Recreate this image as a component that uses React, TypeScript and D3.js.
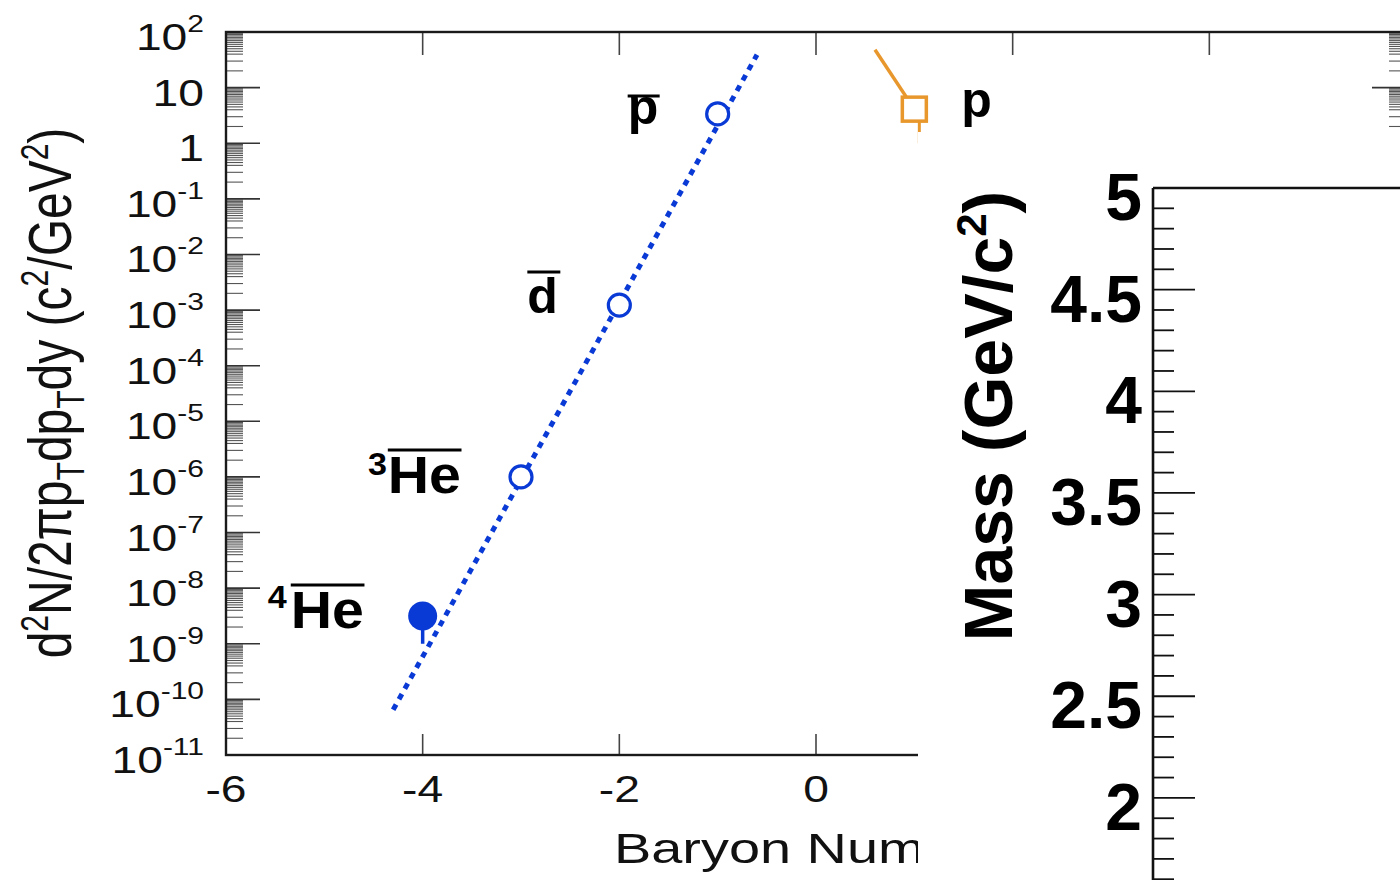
import React from 'react';
import * as d3 from 'd3';

const W = 1400;
const H = 880;
const FONT = "'Liberation Sans', Arial, Helvetica, sans-serif";

// ---------- data ----------
const antiBaryon = [-4, -3, -2, -1];
const antiYield = [3.16e-9, 1.0e-6, 1.23e-3, 3.36];
const antiYieldLow = [1.0e-9, 1.0e-6, 1.23e-3, 3.36];
const antiFilled = [true, false, false, false];

const fitBaryon = [-4.3, -0.6];
const fitYield = [6.5e-11, 39];

const protonBaryon = [1];
const protonYield = [4.1];
const protonYieldLow = [1.0];
const protonTrailBaryon = [0.6, 1];
const protonTrailYield = [48, 4.1];

const xTicks = [-6, -4, -2, 0, 2, 4, 6];
const xLabelValues = [-6, -4, -2, 0];
const xTickLabels = ['-6', '-4', '-2', '0'];
const yDecades = [-11, -10, -9, -8, -7, -6, -5, -4, -3, -2, -1, 0, 1, 2];
const yMinorMultipliers = [2, 3, 4, 4.5, 5, 5.5, 6, 6.5, 7, 7.5, 8, 8.5, 9, 9.5];

const massMajor = [1.5, 2, 2.5, 3, 3.5, 4, 4.5, 5];
const massMajorLabels = ['1.5', '2', '2.5', '3', '3.5', '4', '4.5', '5'];

// ---------- colours ----------
const BLUE = '#0a3ad6';
const ORANGE = '#e8972c';
const AXIS = '#1a1a1a';

export default function App() {
  const x = d3.scaleLinear().domain([-6, 6]).range([226, 1406]);
  const y = d3.scaleLog().domain([1e-11, 1e2]).range([755, 32]);
  const m = d3.scaleLinear().domain([1, 5]).range([188 + 4 * 203.3, 188]);

  const x0 = x(-6), x1 = x(6), yTop = y(1e2), yBot = y(1e-11);

  const line = d3.line<[number, number]>().x(d => x(d[0])).y(d => y(d[1]));
  const fitPath = line(fitBaryon.map((b, i) => [b, fitYield[i]] as [number, number])) || '';
  const trailPath = line(protonTrailBaryon.map((b, i) => [b, protonTrailYield[i]] as [number, number])) || '';

  const minorVals: number[] = [];
  yDecades.slice(0, -1).forEach(n => yMinorMultipliers.forEach(k => minorVals.push(k * Math.pow(10, n))));

  const massMinor: number[] = d3.range(10, 51).map(v => v / 10).filter(v => !massMajor.some(M => Math.abs(M - v) < 1e-6));

  const labelFS = 37;
  const supFS = 24;

  const yTickLabel = (n: number) => {
    const yy = y(Math.pow(10, n));
    if (n === 1 || n === 0) {
      return (
        <g key={'yl' + n} transform={`translate(204,${yy + 18}) scale(1.25,1)`}>
          <text x={0} y={0} textAnchor="end" fontSize={labelFS} fontFamily={FONT} fill="#111">{n === 1 ? '10' : '1'}</text>
        </g>
      );
    }
    return (
      <g key={'yl' + n} transform={`translate(204,${yy + 18}) scale(1.25,1)`}>
        <text x={0} y={0} textAnchor="end" fontSize={labelFS} fontFamily={FONT} fill="#111">
          10<tspan dy={-18} fontSize={supFS}>{String(n)}</tspan>
        </text>
      </g>
    );
  };

  const bold = { fontFamily: FONT, fontWeight: 'bold' as const, fill: '#000' };

  const px = (i: number) => x(antiBaryon[i]);
  const py = (i: number) => y(antiYield[i]);

  return (
    <svg width={W} height={H} viewBox={`0 0 ${W} ${H}`} style={{ position: 'absolute', left: 0, top: 0, background: '#fff' }}>
      <rect x={0} y={0} width={W} height={H} fill="#fff" />

      {/* ------- left panel: yields ------- */}
      {minorVals.map((v, i) => (
        <g key={'mn' + i}>
          <line x1={x0} x2={x0 + 17} y1={y(v)} y2={y(v)} stroke="#555" strokeWidth={1.1} />
          <line x1={x1} x2={x1 - 17} y1={y(v)} y2={y(v)} stroke="#555" strokeWidth={1.1} />
        </g>
      ))}
      {yDecades.map(n => (
        <g key={'mj' + n}>
          <line x1={x0} x2={x0 + 34} y1={y(Math.pow(10, n))} y2={y(Math.pow(10, n))} stroke="#333" strokeWidth={1.6} />
          <line x1={x1} x2={x1 - 34} y1={y(Math.pow(10, n))} y2={y(Math.pow(10, n))} stroke="#333" strokeWidth={1.6} />
        </g>
      ))}
      {xTicks.map(t => (
        <g key={'xt' + t}>
          <line x1={x(t)} x2={x(t)} y1={yBot} y2={yBot - 21} stroke="#444" strokeWidth={1.6} />
          <line x1={x(t)} x2={x(t)} y1={yTop} y2={yTop + 23} stroke="#444" strokeWidth={1.6} />
        </g>
      ))}
      <rect x={x0} y={yTop} width={x1 - x0} height={yBot - yTop} fill="none" stroke={AXIS} strokeWidth={2.4} />

      {yDecades.map(n => yTickLabel(n))}
      {xLabelValues.map((t, i) => (
        <g key={'xl' + t} transform={`translate(${x(t)},802) scale(1.25,1)`}>
          <text x={0} y={0} textAnchor="middle" fontSize={labelFS} fontFamily={FONT} fill="#111">{xTickLabels[i]}</text>
        </g>
      ))}

      {/* axis titles */}
      <g transform="translate(614,863) scale(1.3,1)">
        <text x={0} y={0} fontSize={43} fontFamily={FONT} fill="#111">Baryon Number</text>
      </g>
      <g transform="translate(71,393) scale(1.28,1) rotate(-90)">
        <text x={0} y={0} textAnchor="middle" fontSize={48} fontFamily={FONT} fill="#111">
          d<tspan dy={-18} fontSize={30}>2</tspan>
          <tspan dy={18}>N/2πp</tspan>
          <tspan dy={10} fontSize={30}>T</tspan>
          <tspan dy={-10}>dp</tspan>
          <tspan dy={10} fontSize={30}>T</tspan>
          <tspan dy={-10}>dy (c</tspan>
          <tspan dy={-18} fontSize={30}>2</tspan>
          <tspan dy={18}>/GeV</tspan>
          <tspan dy={-18} fontSize={30}>2</tspan>
          <tspan dy={18}>)</tspan>
        </text>
      </g>

      {/* exponential fit */}
      <path d={fitPath} fill="none" stroke={BLUE} strokeWidth={5} strokeDasharray="6,6" />

      {/* antimatter points */}
      {antiBaryon.map((b, i) => (
        <g key={'pt' + i}>
          {antiYieldLow[i] < antiYield[i] && (
            <line x1={x(b)} x2={x(b)} y1={y(antiYield[i])} y2={y(antiYieldLow[i])} stroke={BLUE} strokeWidth={3.5} />
          )}
          {antiFilled[i] ? (
            <circle cx={x(b)} cy={y(antiYield[i])} r={14.5} fill={BLUE} />
          ) : (
            <circle cx={x(b)} cy={y(antiYield[i])} r={11} fill="#fff" stroke={BLUE} strokeWidth={3.2} />
          )}
        </g>
      ))}

      {/* proton */}
      <path d={trailPath} fill="none" stroke={ORANGE} strokeWidth={3.5} />
      {protonBaryon.map((b, i) => (
        <g key={'pr' + i}>
          <line x1={x(b) + 5} x2={x(b) + 5} y1={y(protonYield[i])} y2={y(protonYieldLow[i])} stroke={ORANGE} strokeWidth={3} />
          <rect x={x(b) - 12} y={y(protonYield[i]) - 12} width={24} height={24} fill="#fff" stroke={ORANGE} strokeWidth={3.5} />
        </g>
      ))}

      {/* particle labels */}
      <g>
        <text x={px(3) - 90} y={py(3) + 10} fontSize={50} {...bold}>p</text>
        <line x1={px(3) - 90} x2={px(3) - 58} y1={py(3) - 18} y2={py(3) - 18} stroke="#000" strokeWidth={3} />

        <text x={px(2) - 92} y={py(2) + 8} fontSize={50} {...bold}>d</text>
        <line x1={px(2) - 92} x2={px(2) - 59} y1={py(2) - 33} y2={py(2) - 33} stroke="#000" strokeWidth={3} />

        <g transform={`translate(${px(1) - 153},${py(1) + 16}) scale(1.1,1)`}>
          <text x={0} y={-18} fontSize={31} {...bold}>3</text>
          <text x={18} y={0} fontSize={52} {...bold}>He</text>
          <line x1={18} x2={85} y1={-43} y2={-43} stroke="#000" strokeWidth={3} />
        </g>
        <g transform={`translate(${px(0) - 155},${py(0) + 12}) scale(1.1,1)`}>
          <text x={0} y={-20} fontSize={31} {...bold}>4</text>
          <text x={21} y={0} fontSize={52} {...bold}>He</text>
          <line x1={21} x2={88} y1={-43} y2={-43} stroke="#000" strokeWidth={3} />
        </g>

        <text x={x(protonBaryon[0]) + 47} y={y(protonYield[0]) + 8} fontSize={50} {...bold}>p</text>
      </g>

      {/* ------- inset panel: mass ------- */}
      <rect x={918} y={132} width={W - 918 + 20} height={H - 132 + 20} fill="#fff" />
      {massMinor.map((v, i) => (
        <line key={'mm' + i} x1={1153} x2={1174} y1={m(v)} y2={m(v)} stroke="#111" strokeWidth={1.8} />
      ))}
      {massMajor.map(v => (
        <line key={'mM' + v} x1={1153} x2={1195} y1={m(v)} y2={m(v)} stroke="#111" strokeWidth={1.8} />
      ))}
      <line x1={1153} x2={1153} y1={m(5)} y2={H + 10} stroke="#111" strokeWidth={2.6} />
      <line x1={1153} x2={W + 10} y1={m(5)} y2={m(5)} stroke="#111" strokeWidth={2.6} />
      {massMajor.map((v, i) => (
        <text key={'ml' + v} x={1142} y={m(v) + 32} textAnchor="end" fontSize={66} {...bold}>{massMajorLabels[i]}</text>
      ))}
      <g transform="translate(1012,416) rotate(-90)">
        <text x={0} y={0} textAnchor="middle" fontSize={68} {...bold}>
          Mass (GeV/c<tspan dy={-26} fontSize={42}>2</tspan><tspan dy={26}>)</tspan>
        </text>
      </g>
    </svg>
  );
}
